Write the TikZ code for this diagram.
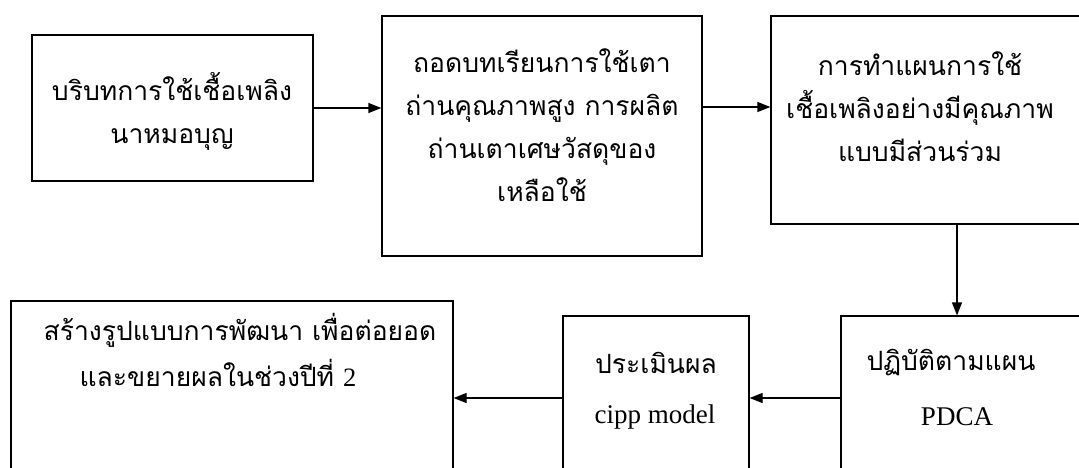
\documentclass[tikz,border=0pt]{standalone}
\usepackage{fontspec}
\setmainfont{Liberation Serif}
\newfontfamily\thaifont[Script=Thai]{Loma}
\usetikzlibrary{arrows.meta}
\begin{document}
\begin{tikzpicture}[x=1pt,y=-1pt,
  boxst/.style={draw,line width=1.2pt,rectangle,inner sep=0pt},
  thtext/.style={font=\thaifont\fontsize{26.5}{43}\selectfont,align=center,inner sep=0pt},
  latext/.style={font=\fontsize{27}{32}\selectfont,inner sep=0pt},
  arr/.style={line width=1.2pt,-{Triangle[length=13pt,width=10pt]}}]
\useasboundingbox (0,0) rectangle (1079,467);
\clip (0,0) rectangle (1079,467);
\fill[white] (0,0) rectangle (1079,467);
% top row
\node[boxst,minimum width=281pt,minimum height=146pt] (b1) at (172.5,108) {};
\node[boxst,minimum width=320pt,minimum height=240pt] (b2) at (542,136) {};
\node[boxst,minimum width=330pt,minimum height=208pt] (b3) at (936,120) {};
% bottom row
\node[boxst,minimum width=260pt,minimum height=164pt] (b4) at (971,398) {};
\node[boxst,minimum width=186pt,minimum height=164pt] (b5) at (656,398) {};
\node[boxst,minimum width=442pt,minimum height=194pt] (b6) at (232,398) {};
% texts
\node[thtext] (t1) at (172,111.5) {บริบทการใช้เชื้อเพลิง\\นาหมอบุญ};
\node[thtext] (t2) at (542,125.5) {ถอดบทเรียนการใช้เตา\\ถ่านคุณภาพสูง การผลิต\\ถ่านเตาเศษวัสดุของ\\เหลือใช้};
\node[thtext] (t3) at (920,107) {การทำแผนการใช้\\เชื้อเพลิงอย่างมีคุณภาพ\\แบบมีส่วนร่วม};
\node[thtext] (t4a) at (951,363) {ปฏิบัติตามแผน};
\node[latext] (t4b) at (957,417) {PDCA};
\node[thtext] (t5a) at (656,363) {ประเมินผล};
\node[latext] (t5b) at (655,417) {cipp model};
\node[thtext] (t6a) at (240,330) {สร้างรูปแบบการพัฒนา เพื่อต่อยอด};
\node[thtext] (t6b) at (218,373) {และขยายผลในช่วงปีที่\ {\rmfamily 2}};
% connectors
\coordinate (c2) at (0,107);
\coordinate (c3) at (957,0);
\draw[arr] (b1.east) -- (b2.west |- b1.east);
\draw[arr] (b2.east |- c2) -- (b3.west |- c2);
\draw[arr] (b3.south -| c3) -- (b4.north -| c3);
\draw[arr] (b4.west) -- (b5.east);
\draw[arr] (b5.west) -- (b6.east |- b5.west);
\end{tikzpicture}
\end{document}
